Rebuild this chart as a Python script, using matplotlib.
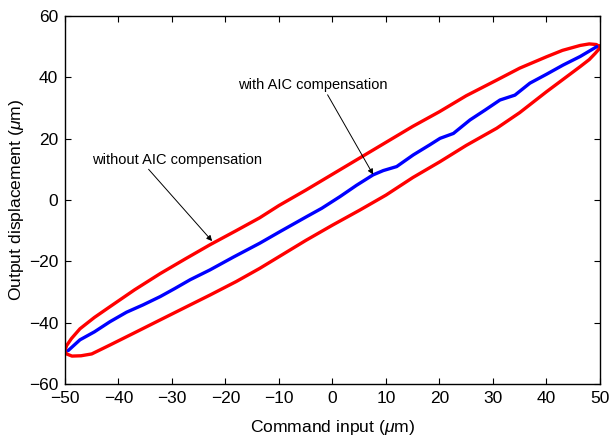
import matplotlib
matplotlib.use("Agg")
import matplotlib.pyplot as plt

plt.rcParams['font.family'] = ['Liberation Sans', 'DejaVu Sans']
plt.rcParams['mathtext.fontset'] = 'custom'
plt.rcParams['mathtext.it'] = 'Liberation Sans:italic'
plt.rcParams['mathtext.rm'] = 'Liberation Sans'

# Red hysteresis loop (without AIC compensation): upper branch right->left, lower branch left->right
red_x = [50, 49.3, 48, 46.3, 43, 40, 35, 30.7, 25, 20, 15, 10, 5, 0, -5, -10, -13.6, -18, -22.9,
         -27.5, -32.2, -37, -41.6, -44.5, -47.2, -48.8, -49.7, -50,
         -49.7, -48.7, -47, -45, -41.6, -37, -32.2, -27.5, -22.9, -18, -13.6, -5, 0, 5.1, 10, 15,
         20.1, 25, 30.7, 35, 40, 43, 46.3, 48, 49.1, 49.7, 50]
red_y = [50, 50.7, 50.9, 50.4, 48.8, 46.7, 43, 39.1, 34, 28.8, 24, 18.8, 13.6, 8.4, 3.2, -1.8, -5.8, -10, -14.6,
         -19.2, -24, -29.3, -34.8, -38.3, -42, -45.2, -47.5, -49,
         -50.2, -50.9, -50.8, -50.2, -47.3, -43.3, -39.1, -35, -31, -26.6, -22.3, -13.2, -8.2, -3.3, 1.6, 7.3,
         12.5, 17.8, 23.4, 28.5, 35.3, 39.2, 43.5, 45.8, 47.8, 49, 50]

# Blue curve (with AIC compensation)
blue_x = [-49.4, -47.2, -44.5, -41.6, -38.5, -35.4, -32.2, -29.5, -26.6, -22.9, -18.5, -13.6, -9.8, -4.8, -2.0,
          1.4, 4.5, 7.6, 9.5, 12.0, 15.1, 18.2, 20.1, 22.6, 25.7, 28.5, 31.3, 34.1, 36.9, 40.0, 43.1, 46.3, 49.4]
blue_y = [-49.1, -45.6, -43.0, -39.7, -36.6, -34.2, -31.5, -28.9, -26.0, -22.8, -18.6, -14.1, -10.3, -5.4, -2.7,
          1.1, 4.8, 8.2, 9.6, 10.9, 14.7, 18.0, 20.1, 21.7, 26.1, 29.3, 32.6, 34.2, 38.1, 41.0, 44.0, 46.8, 50.0]

xticks = [-50, -40, -30, -20, -10, 0, 10, 20, 30, 40, 50]
yticks = [-60, -40, -20, 0, 20, 40, 60]

fig = plt.figure(figsize=(6.09, 4.36), dpi=100)
ax = fig.add_axes([0.1067, 0.1193, 0.8785, 0.844])

ax.plot(red_x, red_y, color='#ff0000', lw=2.4, solid_joinstyle='round')
ax.plot(blue_x, blue_y, color='#0000ff', lw=2.4, solid_joinstyle='round', solid_capstyle='round')

ax.set_xlim(-50, 50)
ax.set_ylim(-60, 60)
ax.set_xticks(xticks)
ax.set_yticks(yticks)
ax.tick_params(direction='in', top=True, right=True, length=4, width=0.8, labelsize=12.5, pad=5)
for s in ax.spines.values():
    s.set_linewidth(1.0)

ax.set_xlabel(r'Command input ($\mu$m)', fontsize=12.6, labelpad=9)
ax.set_ylabel(r'Output displacement ($\mu$m)', fontsize=12.6, labelpad=2)

ax.annotate('without AIC compensation', xy=(-22.5, -13.4), xytext=(-45, 13.2),
            fontsize=10.5, ha='left', va='center',
            arrowprops=dict(arrowstyle='-|>', color='black', lw=0.7, mutation_scale=8,
                            shrinkA=0, shrinkB=0, relpos=(0.32, 0.0)))
ax.annotate('with AIC compensation', xy=(7.6, 8.3), xytext=(-17.7, 37.5),
            fontsize=10.5, ha='left', va='center',
            arrowprops=dict(arrowstyle='-|>', color='black', lw=0.7, mutation_scale=8,
                            shrinkA=0, shrinkB=0, relpos=(0.59, 0.0)))

fig.savefig('out.png', dpi=100)
